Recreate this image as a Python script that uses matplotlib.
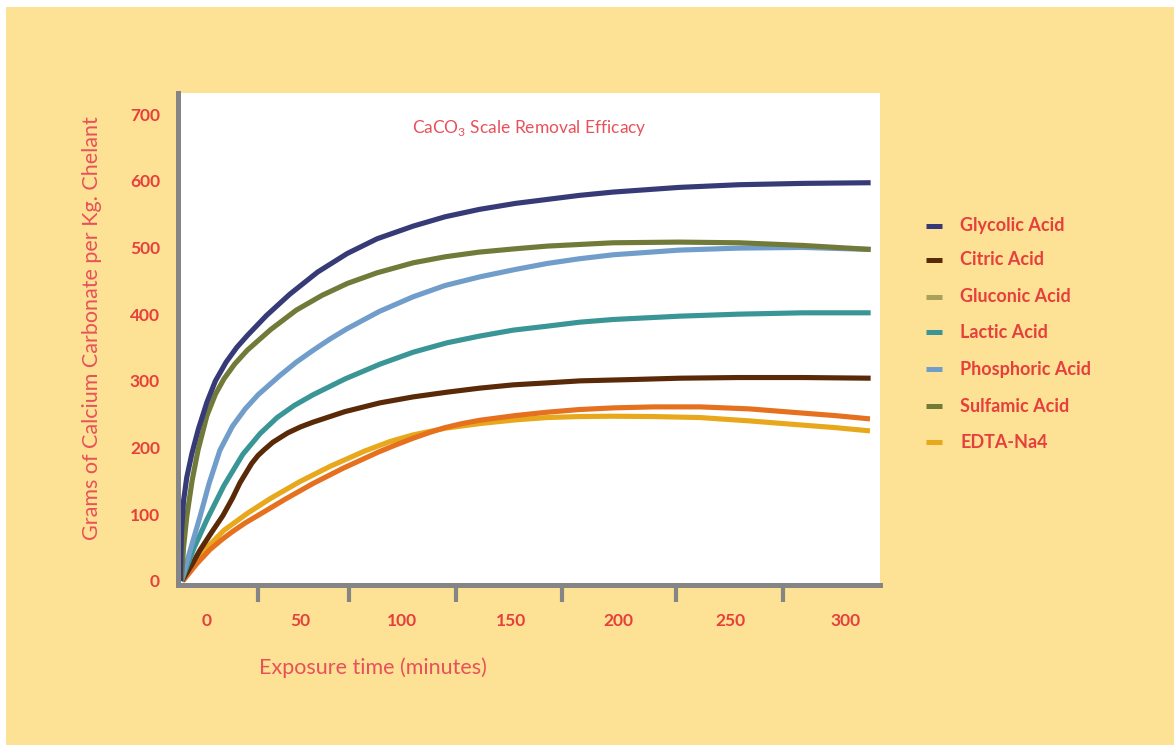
import matplotlib
matplotlib.use("Agg")
import matplotlib.pyplot as plt
from matplotlib.lines import Line2D
from matplotlib.patches import Rectangle

plt.rcParams['font.family'] = ['Lato', 'DejaVu Sans']
plt.rcParams['mathtext.fontset'] = 'custom'
plt.rcParams['mathtext.rm'] = 'Lato'

# colours
BG = '#FDE194'
RED = '#E5403D'
RED_LIGHT = '#E8515A'
GREY = '#858585'

# series (x in minutes, y in grams)
glycolic_x = [-12.5, -12, -11, -9.5, -7, -4, 0, 4, 9, 14, 19, 28, 39, 52, 66, 80, 97, 112, 128, 145, 160, 175, 191, 222, 250, 280, 312]
glycolic_y = [0, 70, 120, 155, 192, 228, 268, 300, 328, 350, 368, 398, 430, 463, 491, 513, 532, 546, 557, 566, 572, 578, 583, 590, 594, 596, 597]

sulfamic_x = [-12, -11, -9.5, -7, -4.2, 0, 4, 8, 13, 19, 30, 42, 54, 66, 80, 97, 112, 128, 145, 160, 191, 222, 250, 280, 312]
sulfamic_y = [0, 50, 96, 150, 196, 248, 280, 303, 325, 346, 377, 406, 428, 446, 462, 477, 486, 493, 498, 502, 507, 508, 507, 503, 497]

phosphoric_x = [-12, -7.5, -3.3, 1, 6.1, 12, 18, 24, 34.3, 42, 50, 58, 65.8, 81, 96.9, 112, 128.4, 145, 160, 175, 191, 222, 250, 280, 312]
phosphoric_y = [0, 50, 96, 146, 196, 232, 258, 279, 308, 328, 346, 363, 378, 404, 426, 443, 456, 467, 476, 483, 489, 496, 499, 500, 497]

lactic_x = [-12, -6, 0, 8, 16.9, 25, 33, 41, 49.8, 65, 81.3, 97, 112.8, 128, 143.9, 160, 175.4, 191, 222.4, 250, 280, 312]
lactic_y = [0, 50, 92, 143, 190, 221, 245, 263, 279, 303, 325, 343, 357, 367, 376, 382, 388, 392, 397, 400, 402, 402]

citric_x = [-11.8, -7, -3.3, 2, 7.5, 12, 15.5, 21, 24, 27, 31, 38, 44, 49.8, 65, 81.3, 97, 112.8, 128, 143.9, 160, 175.4, 200, 222.4, 250, 280, 312]
citric_y = [0, 25, 46, 72, 98, 124, 147, 176, 188, 197, 208, 222, 231, 238, 254, 267, 276, 283, 289, 294, 297, 300, 302, 304, 305, 305, 304]

edta_x = [-12, -6, 0, 8, 18.8, 30, 43.7, 58, 74.3, 86, 96.9, 112, 128.4, 145, 159.9, 175, 190.9, 210, 231.8, 255, 278.8, 295, 311.7]
edta_y = [0, 26, 50, 76, 101, 124, 149, 172, 195, 209, 219, 229, 236, 241.5, 245, 246.5, 247, 246.5, 245, 240, 234, 230, 225]

gluconic_x = [-11.3, -5, 1.4, 7, 12, 18, 24.9, 37, 49.8, 64, 80.4, 88, 96.9, 105, 112, 120, 128.4, 145, 159.9, 175, 190.9, 210, 231.8, 255, 278.8, 295, 311.7]
gluconic_y = [0, 25, 47, 62, 74, 87, 100, 123, 146, 169, 193, 203, 214, 223, 230, 236, 241, 248, 253, 257, 259.5, 261, 261, 258, 252, 248, 243]

# legend entries (as shown in the original, gluconic key colour differs from its line)
legend_labels = ['Glycolic Acid', 'Citric Acid', 'Gluconic Acid', 'Lactic Acid',
                 'Phosphoric Acid', 'Sulfamic Acid', 'EDTA-Na4']
legend_colors = ['#363B78', '#5A2A08', '#A9A15B', '#3A9597', '#719DCB', '#717A39', '#E8A81C']

# the original's x labels are not evenly spaced; keep them where they sit
xtick_labels = ['0', '50', '100', '150', '200', '250', '300']
xtick_pos = [0, 43.7, 91.7, 142.9, 193.2, 245.9, 300]
xtick_marks = [24, 66.8, 117, 167, 220.5, 271]
yticks = [0, 100, 200, 300, 400, 500, 600, 700]

W, H = 1174, 745
fig = plt.figure(figsize=(W / 100, H / 100), dpi=100, facecolor='white')
fig.patches.append(Rectangle((6 / W, 0), 1 - 6 / W, 1 - 7 / H, transform=fig.transFigure,
                             facecolor=BG, edgecolor='none', zorder=-10))

ax = fig.add_axes([178 / W, 1 - 585 / H, (880 - 178) / W, (585 - 93) / H])
ax.set_facecolor('white')

lw = 3.7
kw = dict(lw=lw, solid_capstyle='butt', solid_joinstyle='round')
ax.plot(edta_x, edta_y, color='#E8A81C', **kw)
ax.plot(gluconic_x, gluconic_y, color='#E5711F', **kw)
ax.plot(citric_x, citric_y, color='#5A2A08', **kw)
ax.plot(lactic_x, lactic_y, color='#3A9597', **kw)
ax.plot(phosphoric_x, phosphoric_y, color='#719DCB', **kw)
ax.plot(sulfamic_x, sulfamic_y, color='#717A39', **kw)
ax.plot(glycolic_x, glycolic_y, color='#363B78', **kw)

ax.set_xlim(-13.6, 316.4)
ax.set_ylim(-6, 731.5)

for s in ['top', 'right']:
    ax.spines[s].set_visible(False)
for s in ['left', 'bottom']:
    ax.spines[s].set_color(GREY)
    ax.spines[s].set_linewidth(3.6)
    ax.spines[s].set_capstyle('projecting')

ax.set_xticks(xtick_pos, xtick_labels)
ax.set_xticks(xtick_marks, minor=True)
ax.set_yticks(yticks)
ax.tick_params(axis='x', which='major', length=0, pad=20, labelsize=12.5, labelcolor=RED)
ax.tick_params(axis='x', which='minor', length=12.5, width=3, color=GREY, direction='out')
ax.tick_params(axis='y', which='major', length=0, pad=13, labelsize=12.5, labelcolor=RED)
for lab in ax.get_xticklabels() + ax.get_yticklabels():
    lab.set_fontweight('bold')

ax.text(0.5, 0.928, r'CaCO$_\mathrm{3}$ Scale Removal Efficacy', transform=ax.transAxes,
        ha='center', va='center', fontsize=12.5, color=RED_LIGHT)

fig.text(373 / W, 1 - 668 / H, 'Exposure time (minutes)', ha='center', va='center',
         fontsize=15.5, color=RED_LIGHT)
fig.text(92 / W, 1 - 328 / H, 'Grams of Calcium Carbonate per Kg. Chelant', ha='center',
         va='center', rotation=90, fontsize=15.5, color=RED_LIGHT)

# legend
row_y = [226, 260, 297, 332, 369, 406, 442]
for lab, col, yy in zip(legend_labels, legend_colors, row_y):
    fig.add_artist(Line2D([926 / W, 942 / W], [1 - yy / H, 1 - yy / H], transform=fig.transFigure,
                          color=col, lw=3.6, solid_capstyle='butt'))
    fig.text(960 / W, 1 - yy / H, lab, ha='left', va='center', fontsize=13,
             fontweight='bold', color=RED)

fig.savefig('out.png', dpi=100, facecolor=fig.get_facecolor())
